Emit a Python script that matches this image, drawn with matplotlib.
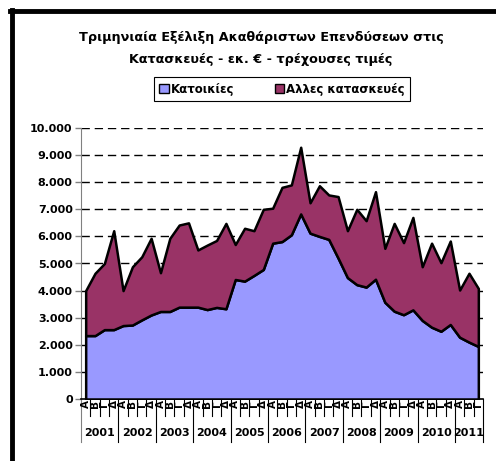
import matplotlib
matplotlib.use('Agg')
import matplotlib.pyplot as plt
from matplotlib.patches import Patch
from matplotlib.lines import Line2D
import numpy as np

# quarterly data, 2001 Q1 .. 2011 Q3 (million euro)
years = ['2001', '2002', '2003', '2004', '2005', '2006', '2007', '2008', '2009', '2010', '2011']
quarters = ['Α', 'Β', 'Γ', 'Δ']
housing = [2340, 2340, 2560, 2560, 2710, 2730, 2920, 3100,
           3230, 3230, 3390, 3390, 3390, 3300, 3380, 3330,
           4410, 4350, 4560, 4780, 5750, 5810, 6060, 6830,
           6120, 6000, 5890, 5200, 4480, 4220, 4130, 4420,
           3570, 3240, 3110, 3290, 2900, 2650, 2500, 2750,
           2280, 2100, 1940]
total = [4000, 4640, 5000, 6210, 4000, 4880, 5250, 5930,
         4660, 5930, 6420, 6500, 5500, 5680, 5850, 6480,
         5700, 6300, 6210, 7000, 7040, 7810, 7900, 9290,
         7240, 7870, 7530, 7470, 6210, 7000, 6580, 7650,
         5560, 6480, 5770, 6700, 4880, 5750, 5030, 5830,
         4020, 4640, 4080]

W, H = 496, 461
fig = plt.figure(figsize=(W / 100, H / 100), dpi=100)
plt.rcParams['font.family'] = 'DejaVu Sans'

# plot area in pixels
left, right, top, bottom = 81, 483, 128, 399
ax = fig.add_axes([left / W, 1 - bottom / H, (right - left) / W, (bottom - top) / H])

x = np.arange(len(total))
ax.fill_between(x, 0, housing, facecolor='#9999FF', edgecolor='black', lw=1.8, zorder=3)
ax.fill_between(x, housing, total, facecolor='#993366', edgecolor='black', lw=1.8, zorder=3)

ax.set_xlim(-0.5, len(total) - 0.5)
ax.set_ylim(0, 10000)
yt = np.arange(0, 10001, 1000)
ax.set_yticks(yt)
ax.set_yticklabels([f'{v:,}'.replace(',', '.') for v in yt], fontsize=8, fontweight='bold')
ax.tick_params(axis='y', length=4, width=1, color='#808080', pad=2)
for v in yt[1:]:
    ax.axhline(v, color='black', lw=1, ls=(0, (6, 3.5)), zorder=1)

ax.set_xticks([])
for s in ['top', 'right']:
    ax.spines[s].set_visible(False)
ax.spines['left'].set_color('#808080')
ax.spines['bottom'].set_color('black')
ax.spines['bottom'].set_linewidth(1.2)

# category labels under the axis
tr = ax.get_xaxis_transform()
q_low = -17 / (bottom - top)
y_low = -43 / (bottom - top)
for i in range(len(total)):
    ax.text(i, -0.004, quarters[i % 4], transform=tr, rotation=90, ha='center', va='top',
            fontsize=7.5, fontweight='bold', clip_on=False)
for k in range(len(total) + 1):
    low = y_low if k % 4 == 0 or k == len(total) else q_low
    ax.plot([k - 0.5, k - 0.5], [0, low], transform=tr, color='#808080' if k == 0 else 'black',
            lw=0.8, clip_on=False)
for j, yr in enumerate(years):
    n = min(4, len(total) - 4 * j)
    ax.text(4 * j + (n - 1) / 2, -34 / (bottom - top), yr, transform=tr, ha='center', va='center',
            fontsize=8, fontweight='bold', clip_on=False)

# title
fig.text(261 / W, 1 - 38 / H, 'Τριμηνιαία Εξέλιξη Ακαθάριστων Επενδύσεων στις',
         ha='center', va='center', fontsize=9.2, fontweight='bold')
fig.text(261 / W, 1 - 60 / H, 'Κατασκευές - εκ. € - τρέχουσες τιμές',
         ha='center', va='center', fontsize=9.2, fontweight='bold')

# legend
handles = [Patch(facecolor='#9999FF', edgecolor='black', label='Κατοικίες'),
           Patch(facecolor='#993366', edgecolor='black', label='Αλλες κατασκευές')]
leg = fig.legend(handles=handles, loc='center', bbox_to_anchor=(282 / W, 1 - 89 / H), ncol=2,
                 fancybox=False, framealpha=1, edgecolor='black', handlelength=0.8,
                 handleheight=0.8, handletextpad=0.2, columnspacing=3.4,
                 borderpad=0.45, borderaxespad=0, prop={'weight': 'bold', 'size': 8.5})
leg.get_frame().set_linewidth(0.8)

# thick border of the chart (top and left visible)
fig.add_artist(Line2D([12 / W, 12 / W], [0, 1 - 10 / H], color='black', lw=3.5,
                      transform=fig.transFigure))
fig.add_artist(Line2D([10 / W, 1], [1 - 11.5 / H, 1 - 11.5 / H], color='black', lw=3.5,
                      transform=fig.transFigure))

fig.savefig('out.png', dpi=100)
